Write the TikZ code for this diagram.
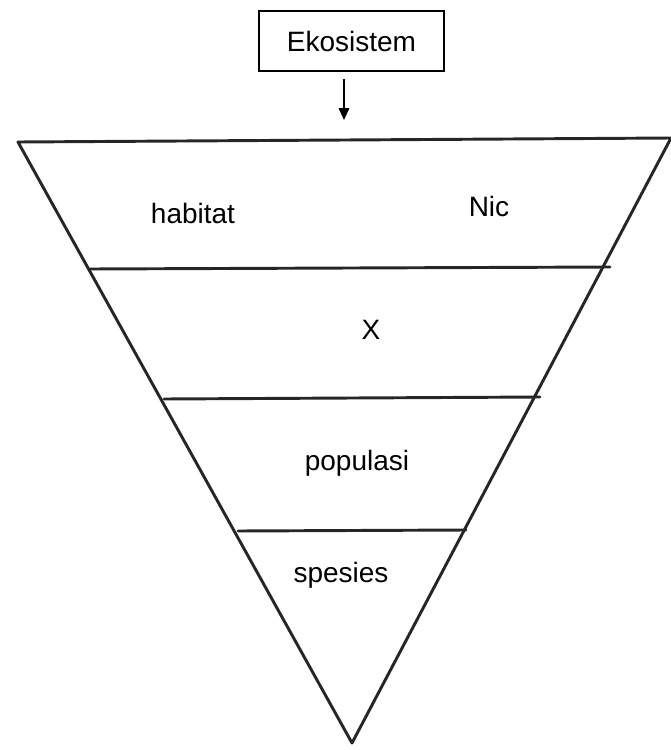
\documentclass[tikz,border=0pt]{standalone}
\usepackage{fontspec}
\setmainfont{Liberation Sans}
\usetikzlibrary{arrows.meta}
\begin{document}
\begin{tikzpicture}[x=0.75pt,y=-0.75pt,
  edge/.style={line width=2.2pt,color=black!85,line cap=round,line join=round},
  lbl/.style={font=\fontsize{21}{24}\selectfont,inner sep=0pt},
  boxnode/.style={draw,line width=1.3pt,minimum width=185*0.75pt,minimum height=60*0.75pt,font=\fontsize{21}{24}\selectfont}]
\useasboundingbox (0,0) rectangle (671,750);
% triangle corners
\coordinate (tl) at (18,142);
\coordinate (tr) at (671,138);
\coordinate (ap) at (352,743);
\draw[edge] (tl) -- (tr) -- (ap) -- cycle;
% level lines
\coordinate (l1a) at (90,269); \coordinate (l1b) at (610,267);
\coordinate (l2a) at (164,399); \coordinate (l2b) at (540,397);
\coordinate (l3a) at (238,531); \coordinate (l3b) at (466,530);
\draw[edge] (l1a) -- (l1b);
\draw[edge] (l2a) -- (l2b);
\draw[edge] (l3a) -- (l3b);
% box and arrow
\node[boxnode] (eko) at (351.5,41) {Ekosistem};
\coordinate (tip) at (344,120);
\draw[line width=1.3pt,-{Triangle[length=9pt,width=8pt]}] (eko.south -| tip) ++(0,7) -- (tip);
% labels
\node[lbl] (hab) at (193,213) {habitat};
\node[lbl] (nic) at (489,206) {Nic};
\node[lbl] (x) at (371,330) {X};
\node[lbl] (pop) at (357,463) {populasi};
\node[lbl] (spe) at (341,575) {spesies};
\end{tikzpicture}
\end{document}
